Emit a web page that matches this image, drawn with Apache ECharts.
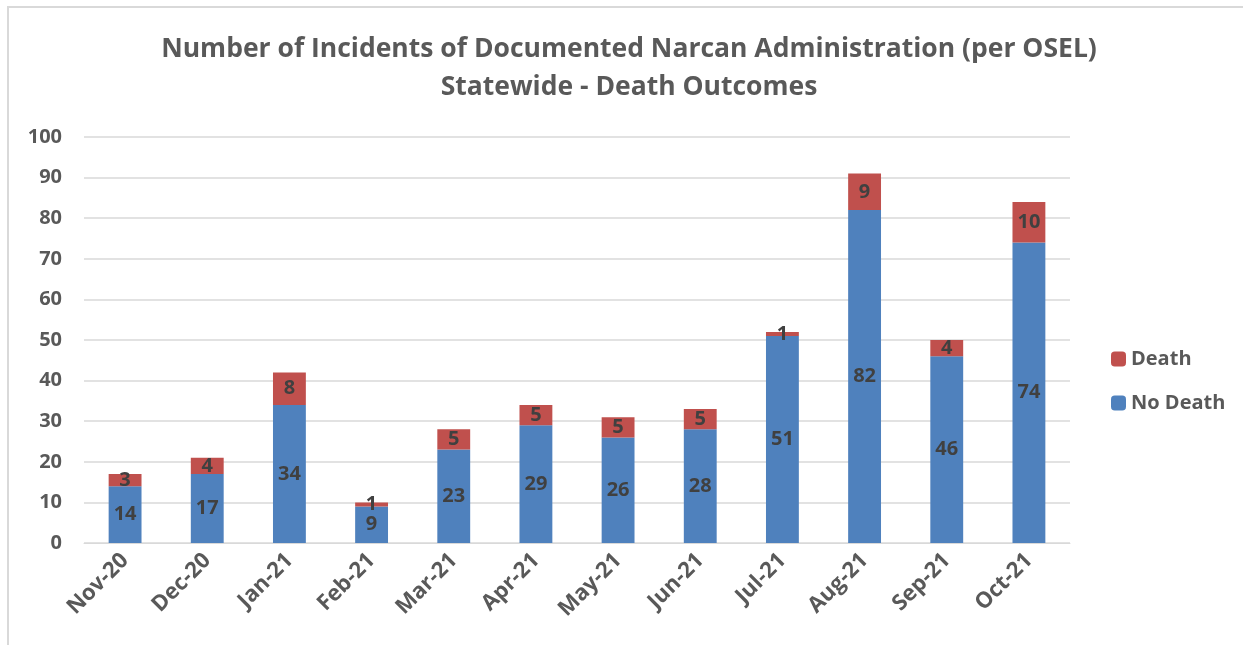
<!DOCTYPE html>
<html>
<head>
<meta charset="utf-8">
<script src="https://cdn.jsdelivr.net/npm/echarts@6/dist/echarts.min.js"></script>
<style>
  html, body { margin: 0; padding: 0; background: #fff; }
  #frame { position: absolute; left: 7px; top: 6px; width: 1236px; height: 639px;
           border-left: 2px solid #d9d9d9; border-top: 2px solid #d9d9d9; box-sizing: border-box; }
  #main { position: absolute; left: 0; top: 0; width: 1243px; height: 645px; }
</style>
</head>
<body>
<div id="frame"></div>
<div id="main"></div>
<script>
const months = ['Nov-20', 'Dec-20', 'Jan-21', 'Feb-21', 'Mar-21', 'Apr-21', 'May-21', 'Jun-21', 'Jul-21', 'Aug-21', 'Sep-21', 'Oct-21'];
const noDeath = [14, 17, 34, 9, 23, 29, 26, 28, 51, 82, 46, 74];
const death = [3, 4, 8, 1, 5, 5, 5, 5, 1, 9, 4, 10];

const font = '"Open Sans", Lato, sans-serif';
let myChart = echarts.init(document.getElementById('main'));

const label = {
  show: true,
  position: 'inside',
  color: '#404040',
  fontFamily: font,
  fontWeight: 'bold',
  fontSize: 20
};

var option = {
  animation: false,
  title: {
    text: 'Number of Incidents of Documented Narcan Administration (per OSEL)\nStatewide - Death Outcomes',
    left: 624,
    textAlign: 'center',
    top: 25,
    textStyle: {
      color: '#595959',
      fontFamily: font,
      fontWeight: 'bold',
      fontSize: 26.5,
      lineHeight: 38
    }
  },
  legend: {
    orient: 'vertical',
    left: 1106,
    top: 344,
    itemWidth: 15,
    itemHeight: 15,
    itemGap: 24,
    data: ['Death', 'No Death'],
    textStyle: {
      color: '#595959',
      fontFamily: font,
      fontWeight: 'bold',
      fontSize: 20
    }
  },
  grid: {
    left: 84,
    right: 173,
    top: 137,
    bottom: 102
  },
  xAxis: {
    type: 'category',
    data: months,
    axisLine: { lineStyle: { color: '#d9d9d9', width: 1 } },
    axisTick: { show: false },
    axisLabel: {
      rotate: 45,
      interval: 0,
      margin: 14,
      color: '#595959',
      fontFamily: font,
      fontWeight: 'bold',
      fontSize: 22
    }
  },
  yAxis: {
    type: 'value',
    min: 0,
    max: 100,
    interval: 10,
    axisLine: { show: false },
    axisTick: { show: false },
    splitLine: { lineStyle: { color: '#d9d9d9', width: 1.5 } },
    axisLabel: {
      margin: 22,
      color: '#595959',
      fontFamily: font,
      fontWeight: 'bold',
      fontSize: 20
    }
  },
  series: [
    {
      name: 'No Death',
      type: 'bar',
      stack: 'Total',
      barWidth: '40%',
      itemStyle: { color: '#4f81bd' },
      label: label,
      data: noDeath
    },
    {
      name: 'Death',
      type: 'bar',
      stack: 'Total',
      barWidth: '40%',
      itemStyle: { color: '#c0504d' },
      label: label,
      data: death
    }
  ]
};
myChart.setOption(option);
</script>
</body>
</html>
